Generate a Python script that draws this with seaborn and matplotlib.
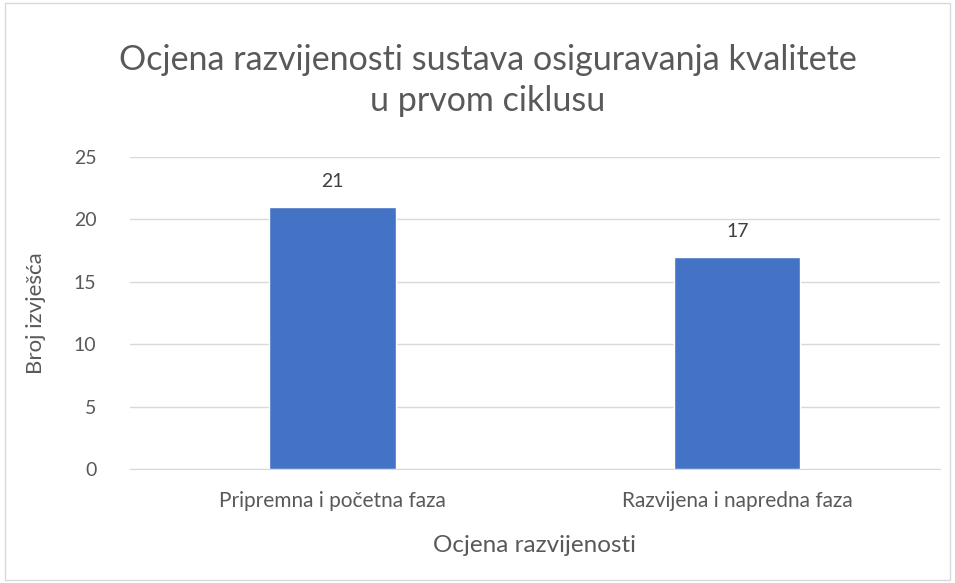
import matplotlib
matplotlib.use("Agg")
import matplotlib.pyplot as plt
import seaborn as sns
import pandas as pd

# data
categories = ["Pripremna i početna faza", "Razvijena i napredna faza"]
counts = [21, 17]
y_ticks = [0, 5, 10, 15, 20, 25]

df = pd.DataFrame({"faza": categories, "broj": counts})

sns.set_style("white")
plt.rcParams["font.family"] = ["Lato", "DejaVu Sans"]

fig = plt.figure(figsize=(9.55, 5.83), dpi=100)
ax = fig.add_axes([0.136, 0.1955, 0.848, 0.5352])

sns.barplot(data=df, x="faza", y="broj", color="#4472C4", width=0.312,
            saturation=1, ax=ax, zorder=3)

ax.set_ylim(0, 25)
ax.set_yticks(y_ticks)
ax.yaxis.grid(True, color="#d9d9d9", linewidth=1, zorder=0)
for s in ["top", "right", "left"]:
    ax.spines[s].set_visible(False)
ax.spines["bottom"].set_color("#d9d9d9")
ax.tick_params(axis="y", length=0, labelsize=14, colors="#595959", pad=24)
ax.tick_params(axis="x", length=0, labelsize=15, colors="#595959", pad=16)

for c in ax.containers:
    ax.bar_label(c, padding=12, fontsize=14, color="#404040")

ax.set_xlabel("Ocjena razvijenosti", fontsize=17.5, color="#595959", labelpad=17)
ax.set_ylabel("Broj izvješća", fontsize=16, color="#595959", labelpad=20)

fig.text(0.511, 0.862, "Ocjena razvijenosti sustava osiguravanja kvalitete\nu prvom ciklusu",
         ha="center", va="center", fontsize=24.5, color="#595959", linespacing=1.33)

# chart border
fig.patches.append(plt.Rectangle((0.005, 0.005), 0.99, 0.99, transform=fig.transFigure,
                                 fill=False, edgecolor="#d9d9d9", linewidth=1))

fig.savefig("out.png", dpi=100)
